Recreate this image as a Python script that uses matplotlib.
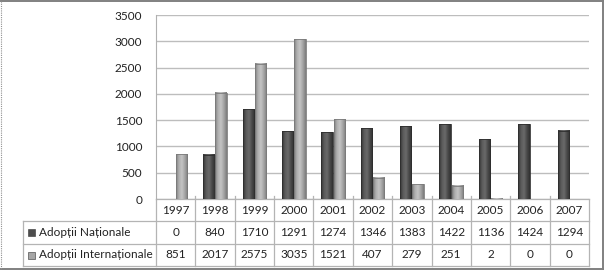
import numpy as np
import matplotlib.pyplot as plt
from matplotlib.patches import Rectangle
from matplotlib.colors import LinearSegmentedColormap

years = ['1997', '1998', '1999', '2000', '2001', '2002', '2003', '2004', '2005', '2006', '2007']
nationale = [0, 840, 1710, 1291, 1274, 1346, 1383, 1422, 1136, 1424, 1294]
internationale = [851, 2017, 2575, 3035, 1521, 407, 279, 251, 2, 0, 0]
series_names = ['Adopții Naționale', 'Adopții Internaționale']
dark = '#4d4d4d'
light = '#a6a6a6'

plt.rcParams['font.family'] = ['Lato', 'DejaVu Sans']

W, H = 604, 271
fig = plt.figure(figsize=(W / 100, H / 100), dpi=100)

# pixel-space overlay for frame and table
bg = fig.add_axes([0, 0, 1, 1])
bg.set_xlim(0, W)
bg.set_ylim(H, 0)
bg.axis('off')
fc = '#808080'
bg.plot([0.5, W - 1.5], [0.8, 0.8], color=fc, lw=1.4)
bg.plot([W - 1.2, W - 1.2], [0.5, H - 2], color=fc, lw=1.4)
bg.plot([0.5, W - 1.5], [H - 2, H - 2], color=fc, lw=1.4)
bg.plot([1, 1], [0.5, H - 2], color='#909090', lw=0.8, ls=(0, (1, 1)))

x0, x1, ytop, ybot = 156, 589, 15, 199
ax = fig.add_axes([x0 / W, (H - ybot) / H, (x1 - x0) / W, (ybot - ytop) / H])
ax.set_zorder(2)
ax.patch.set_alpha(0)
x = np.arange(len(years))
bw = 0.29
b1 = ax.bar(x - bw / 2 - 0.01, nationale, bw, color='none', ec='#2e2e2e', lw=0.6, zorder=4)
b2 = ax.bar(x + bw / 2 + 0.01, internationale, bw, color='none', ec='#7a7a7a', lw=0.6, zorder=4)

# cylinder-like shading
cm_dark = LinearSegmentedColormap.from_list('d', ['#333333', '#5a5a5a', '#6a6a6a', '#4a4a4a', '#303030'])
cm_light = LinearSegmentedColormap.from_list('l', ['#7e7e7e', '#b0b0b0', '#c4c4c4', '#a4a4a4', '#7c7c7c'])
grad = np.linspace(0, 1, 64).reshape(1, -1)
for bars, cm in [(b1, cm_dark), (b2, cm_light)]:
    for p in bars:
        h = p.get_height()
        if h <= 0:
            continue
        bx = p.get_x()
        ax.imshow(grad, cmap=cm, extent=[bx, bx + p.get_width(), 0, h],
                  aspect='auto', zorder=3, interpolation='bilinear')

ax.set_xlim(-0.5, len(years) - 0.5)
ax.set_ylim(0, 3500)
ax.set_yticks(range(0, 3501, 500))
ax.yaxis.grid(True, color='#bdbdbd', lw=1.0)
ax.set_axisbelow(True)
ax.set_xticks([])
ax.tick_params(axis='y', length=0, labelsize=8.5, pad=10, colors='#222222')
for s in ['top', 'right', 'bottom']:
    ax.spines[s].set_visible(False)
ax.spines['left'].set_color('#b0b0b0')

# data table
cw = (x1 - x0) / len(years)
rows = [199, 221, 244, 266]
lc = '#b4b4b4'
fs = 8.5
bg.plot([x0, x1], [rows[0], rows[0]], color=lc, lw=0.9)
for r in rows[1:]:
    bg.plot([23, x1], [r, r], color=lc, lw=0.9)
bg.plot([23, 23], [rows[1], rows[3]], color=lc, lw=0.9)
for i in range(len(years) + 1):
    xx = x0 + i * cw
    bg.plot([xx, xx], [rows[0] - 3 if 0 < i < len(years) else rows[0], rows[3]], color=lc, lw=0.9)
for i, yr in enumerate(years):
    cx = x0 + (i + 0.5) * cw
    bg.text(cx, (rows[0] + rows[1]) / 2, yr, ha='center', va='center', fontsize=fs, color='#222222')
    bg.text(cx, (rows[1] + rows[2]) / 2, str(nationale[i]), ha='center', va='center', fontsize=fs, color='#222222')
    bg.text(cx, (rows[2] + rows[3]) / 2, str(internationale[i]), ha='center', va='center', fontsize=fs, color='#222222')
for k, (name, col) in enumerate(zip(series_names, [dark, light])):
    cy = (rows[k + 1] + rows[k + 2]) / 2
    bg.add_patch(Rectangle((28, cy - 3.5), 7, 7, color=col, ec='#333333', lw=0.4))
    bg.text(39, cy, name, ha='left', va='center', fontsize=fs, color='#222222')

fig.savefig('out.png', dpi=100)
